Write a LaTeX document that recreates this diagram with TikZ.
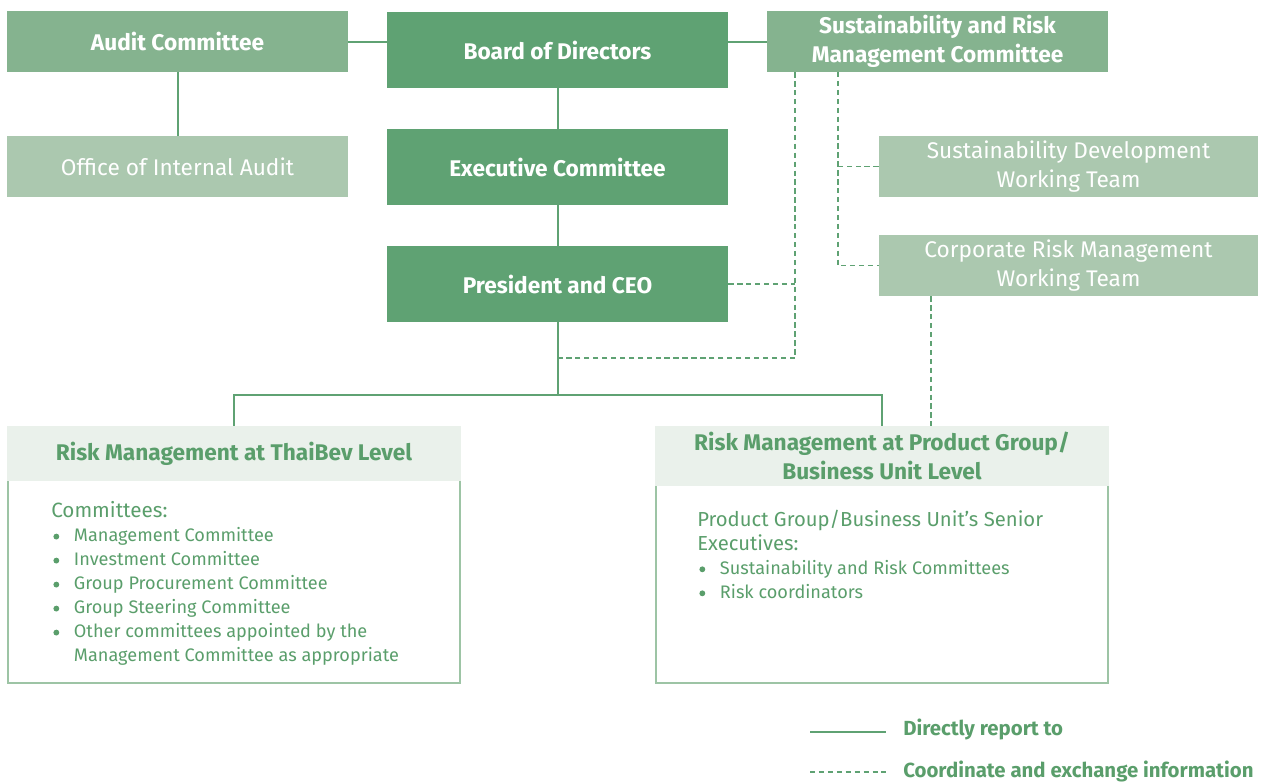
\documentclass[tikz,border=0pt]{standalone}
\usepackage{fontspec}
\setmainfont{Fira Sans}
\usetikzlibrary{calc}
\definecolor{dkg}{HTML}{5FA273}
\definecolor{mdg}{HTML}{85B38F}
\definecolor{ltg}{HTML}{ABC8AF}
\definecolor{hdg}{HTML}{EAF1EB}
\definecolor{brd}{HTML}{9DC4A5}
\definecolor{txg}{HTML}{5A9E6B}
\tikzset{
  box/.style={rectangle, inner sep=0pt, text=white, align=center},
  boxA/.style={box, fill=dkg, minimum width=341*0.75pt, minimum height=76*0.75pt, font=\fontsize{17}{20}\selectfont\bfseries},
  boxB/.style={box, fill=mdg, minimum width=341*0.75pt, minimum height=61*0.75pt, font=\fontsize{17}{21.75}\selectfont\bfseries},
  boxC/.style={box, fill=ltg, minimum height=61*0.75pt, font=\fontsize{17}{21.75}\selectfont},
  hdr/.style={rectangle, inner sep=0pt, fill=hdg, text=txg, align=center, minimum width=454*0.75pt, font=\fontsize{17}{21.75}\selectfont\bfseries},
  solid line/.style={draw=dkg, line width=1.5pt},
  dsh/.style={draw=dkg, line width=0.9pt, dash pattern=on 4pt off 2.7pt},
  lst/.style={inner sep=0pt, anchor=north west, align=left, text=txg, font=\fontsize{13.6}{18}\selectfont},
  legtxt/.style={anchor=west, inner sep=0pt, text=txg, font=\fontsize{15.3}{18}\selectfont\bfseries},
}
\newcommand{\bul}{\makebox[17pt][l]{\hspace*{1.6pt}\tikz[baseline=0pt]\fill[txg] (0pt,0pt) (2.2pt,3.6pt) circle[radius=2.2pt];}}
\begin{document}
\begin{tikzpicture}[x=0.75pt,y=-0.75pt]
\useasboundingbox (0,0) rectangle (1264,782);
% top boxes
\node[boxB] (audit) at (177.5,41.5) {Audit Committee};
\node[boxA] (board) at (557.5,50) {Board of Directors};
\node[boxB] (srmc) at (937.5,41.5) {Sustainability and Risk\\Management Committee};
\node[boxC, minimum width=341*0.75pt] (office) at (177.5,166.5) {Office of Internal Audit};
\node[boxA] (exec) at (557.5,167) {Executive Committee};
\node[boxA] (ceo) at (557.5,284) {President and CEO};
\node[boxC, minimum width=379*0.75pt] (sdwt) at (1068.5,166.5) {Sustainability Development\\Working Team};
\node[boxC, minimum width=379*0.75pt] (crm) at (1068.5,265.5) {Corporate Risk Management\\Working Team};
% bottom panels
\draw[brd, line width=2pt] (8,470) rectangle (460,683);
\node[hdr, minimum height=55*0.75pt] (lhead) at (234,453.5) {Risk Management at ThaiBev Level};
\draw[brd, line width=2pt] (656,470) rectangle (1108,683);
\node[hdr, minimum height=60*0.75pt] (rhead) at (882,456) {Risk Management at Product Group/\\Business Unit Level};
\node[lst] (llist) at (51,501) {{\fontsize{15.5}{18}\selectfont Committees:}\\
\bul Management Committee\\
\bul Investment Committee\\
\bul Group Procurement Committee\\
\bul Group Steering Committee\\
\bul Other committees appointed by the\\
\hspace*{17pt}Management Committee as appropriate};
\node[lst] (rlist) at (697,509.5) {{\fontsize{15.2}{18}\selectfont Product Group/Business Unit’s Senior}\\
{\fontsize{15.2}{18}\selectfont Executives:}\\
\bul Sustainability and Risk Committees\\
\bul Risk coordinators};
% solid connectors
\draw[solid line] (audit.east) -- (audit.east -| board.west);
\draw[solid line] (board.east |- srmc.west) -- (srmc.west);
\draw[solid line] (audit.south) -- (office.north);
\draw[solid line] (board.south) -- (exec.north);
\draw[solid line] (exec.south) -- (ceo.north);
\coordinate (bar) at (557.5,395);
\draw[solid line] (ceo.south) -- (bar);
\draw[solid line] (lhead.north) |- (bar) -| (rhead.north);
% dashed connectors
\coordinate (d1) at (795,358);
\coordinate (d2) at (838,72);
\draw[dsh] (srmc.south -| d1) -- (d1) -- (d1 -| bar);
\draw[dsh] (ceo.east) -- (ceo.east -| d1);
\draw[dsh] (d2) |- (crm.west);
\draw[dsh] (sdwt.west) -- (sdwt.west -| d2);
\coordinate (d3) at (931,0);
\draw[dsh] (crm.south -| d3) -- (rhead.north -| d3);
% legend
\coordinate (l1a) at (810,732);
\coordinate (l1b) at (886,732);
\coordinate (l2a) at (810,772);
\coordinate (l2b) at (886,772);
\draw[draw=dkg, line width=1.5pt] (l1a) -- (l1b);
\draw[dsh] (l2a) -- (l2b);
\node[legtxt] (leg1) at (903,729) {Directly report to};
\node[legtxt] (leg2) at (903,771) {Coordinate and exchange information};
\end{tikzpicture}
\end{document}
